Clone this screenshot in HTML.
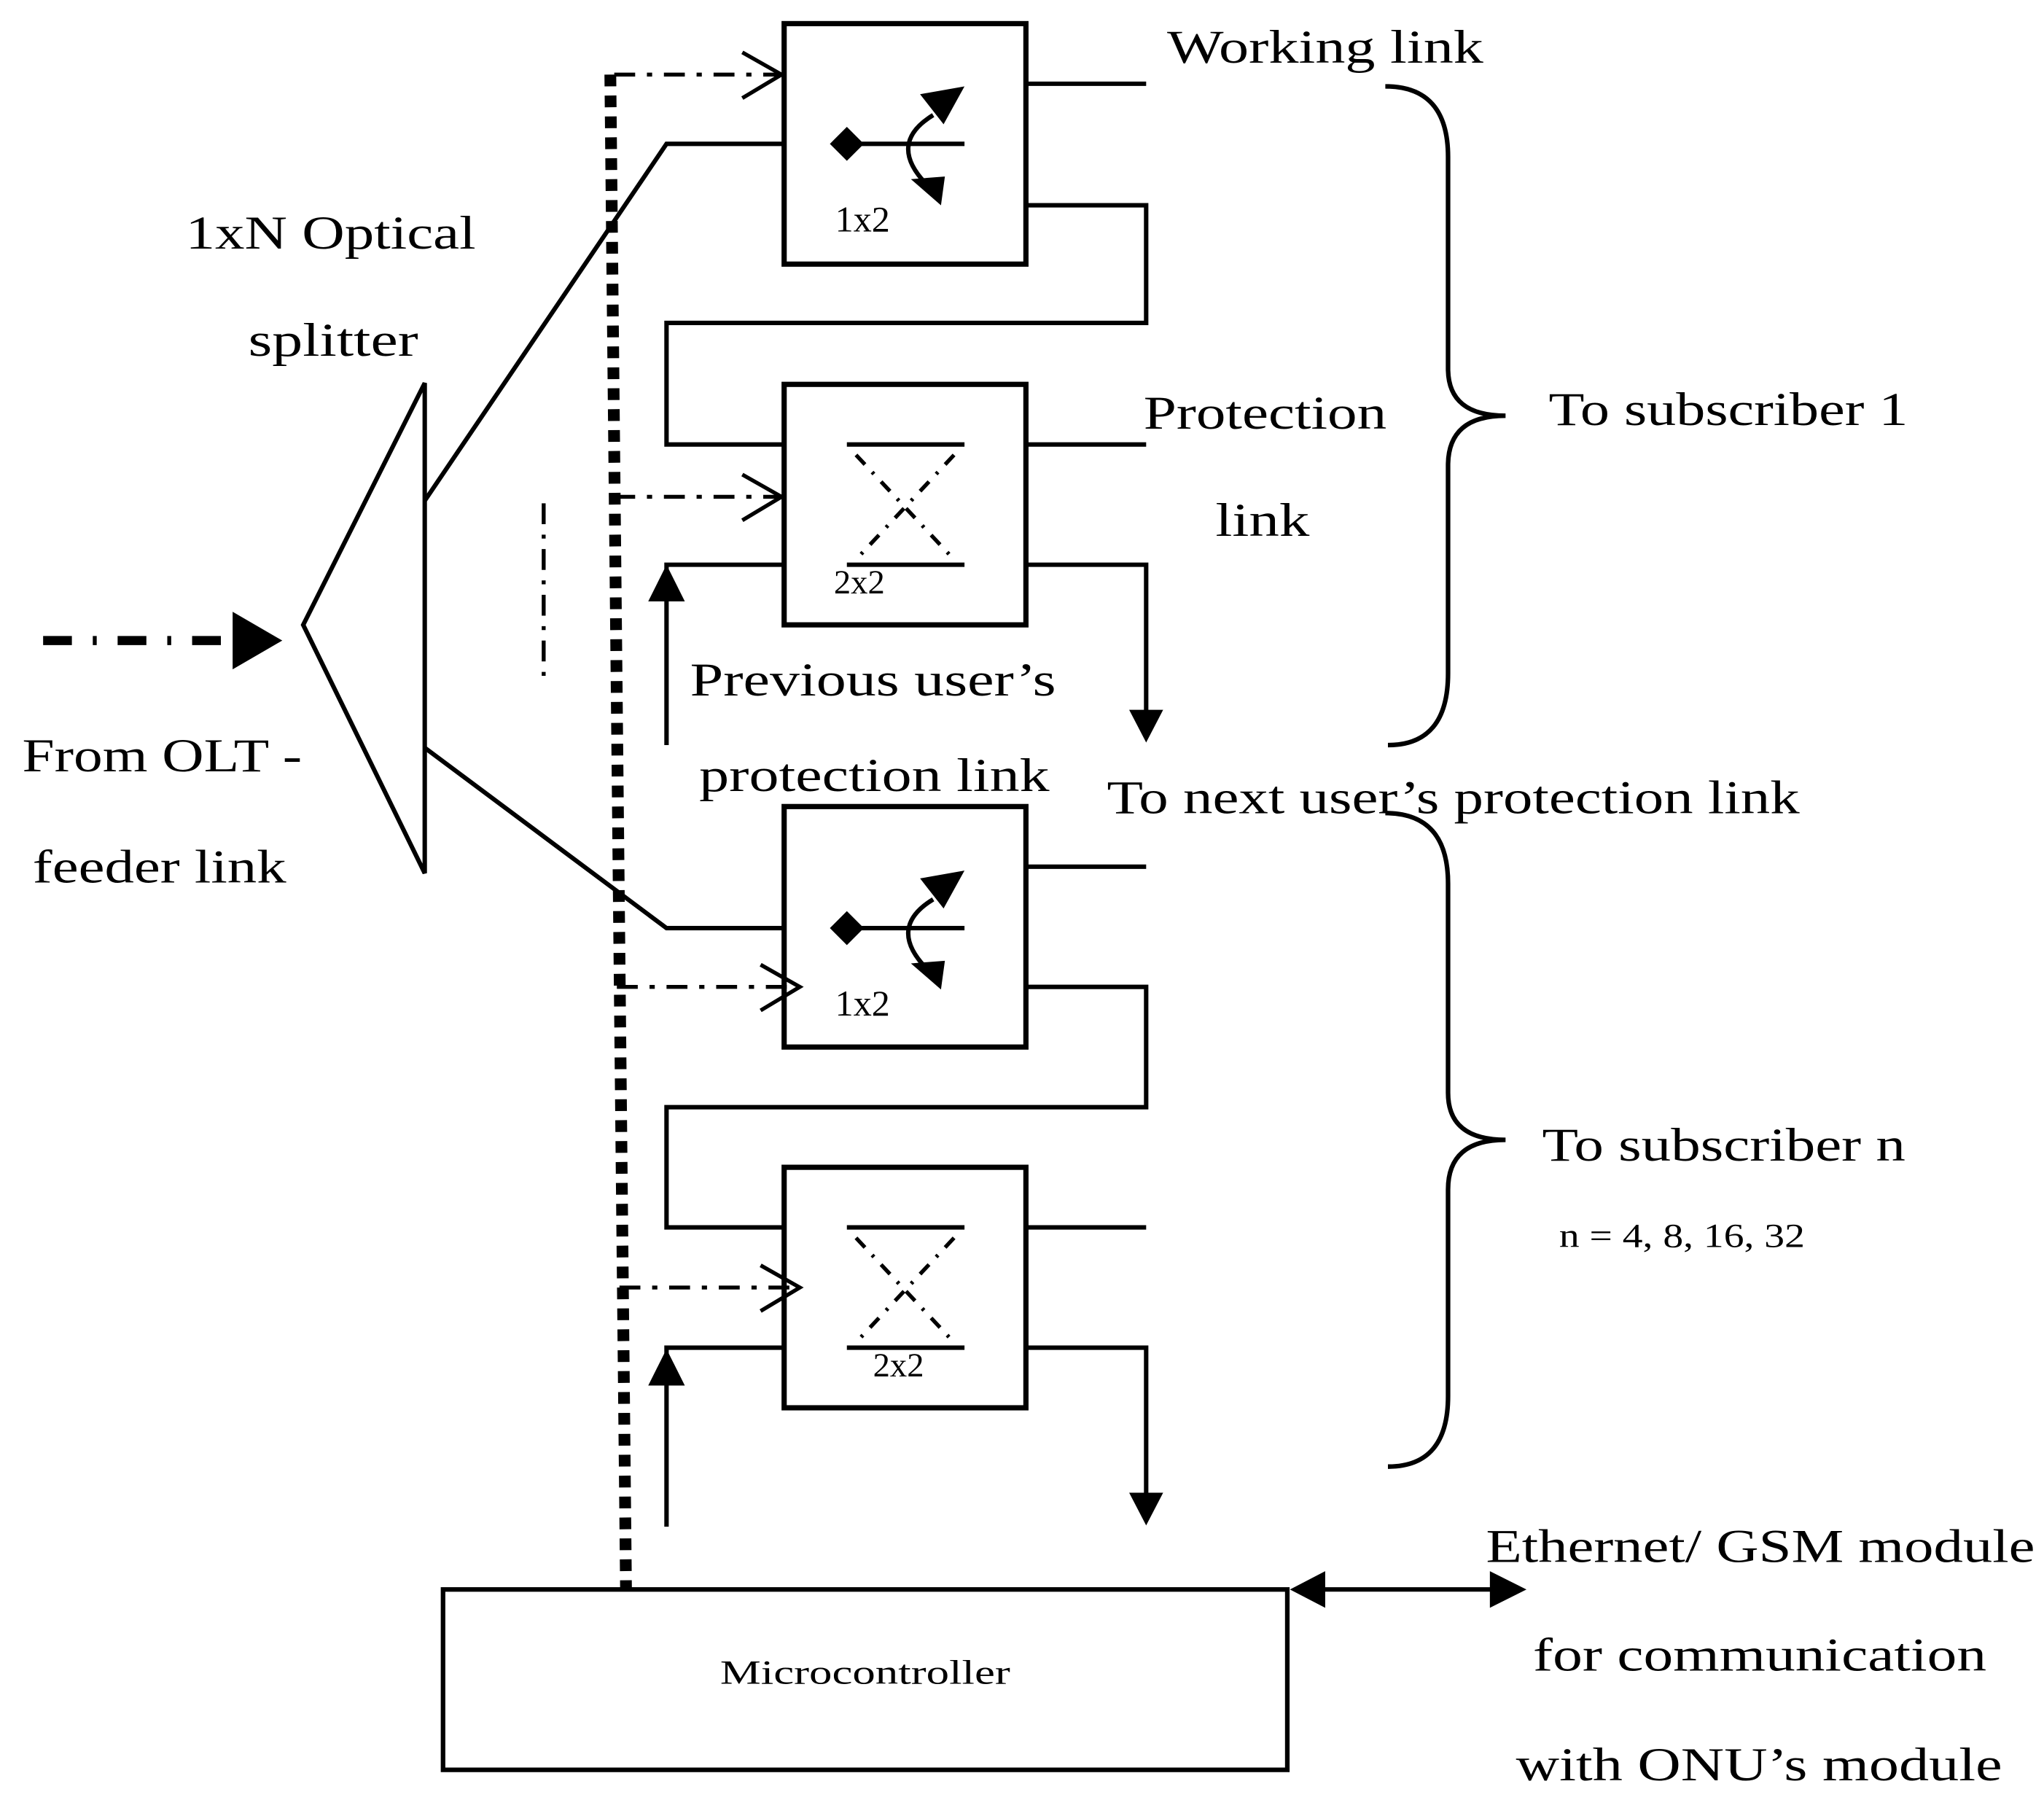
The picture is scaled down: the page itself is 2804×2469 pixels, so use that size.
<!DOCTYPE html>
<html><head><meta charset="utf-8"><style>html,body{margin:0;padding:0;background:#fff}svg{display:block}</style></head>
<body>
<svg width="2804" height="2469" viewBox="0 0 1564 1377" xmlns="http://www.w3.org/2000/svg" font-family="'Liberation Serif', serif" fill="none" stroke="#000">
<rect x="0" y="0" width="1564" height="1377" fill="#fff" stroke="none"/>
<g stroke-width="4">
<rect x="600" y="18" width="185" height="184"/>
<rect x="600" y="294" width="185" height="184"/>
<rect x="600" y="617" width="185" height="184"/>
<rect x="600" y="893" width="185" height="184"/>
<rect x="339" y="1216" width="646" height="138" stroke-width="3.5"/>
</g>
<g stroke-width="3.4">
<polygon points="325,293 232,478 325,668"/>
<polyline points="325,383 510,110 600,110"/>
<polyline points="325,572 510,710 600,710"/>
<line x1="785" y1="64" x2="877" y2="64"/>
<polyline points="785,157 877,157 877,247 510,247 510,340 600,340"/>
<line x1="785" y1="340" x2="877" y2="340"/>
<polyline points="785,432 877,432 877,545"/>
<polyline points="600,432 510,432 510,570"/>
<line x1="785" y1="663" x2="877" y2="663"/>
<polyline points="785,755 877,755 877,847 510,847 510,939 600,939"/>
<line x1="785" y1="939" x2="877" y2="939"/>
<polyline points="785,1031 877,1031 877,1145"/>
<polyline points="600,1031 510,1031 510,1168"/>
<line x1="1005" y1="1216" x2="1150" y2="1216"/>
</g>
<g fill="#000" stroke="none">
<polygon points="864,543 890,543 877,568"/>
<polygon points="864,1142 890,1142 877,1167"/>
<polygon points="496,460 524,460 510,432"/>
<polygon points="496,1060 524,1060 510,1032"/>
<polygon points="987,1216 1014,1202 1014,1230"/>
<polygon points="1168,1216 1140,1202 1140,1230"/>
<polygon points="178,468 216,490 178,512"/>
</g>
<line x1="33" y1="490" x2="175" y2="490" stroke-width="7" stroke-dasharray="22 16 3 16"/>
<line x1="416" y1="385" x2="416" y2="524" stroke-width="3" stroke-dasharray="16 8 3 8"/>
<line x1="467" y1="57" x2="479" y2="1216" stroke-width="9" stroke-dasharray="9 7"/>
<g stroke-width="3">
<line x1="470" y1="57" x2="596" y2="57" stroke-dasharray="16 9 4 9"/>
<polyline points="568,40 598,57 568,75"/>
<line x1="470" y1="380" x2="596" y2="380" stroke-dasharray="16 9 4 9"/>
<polyline points="568,363 598,380 568,398"/>
<line x1="472" y1="755" x2="610" y2="755" stroke-dasharray="16 9 4 9"/>
<polyline points="582,738 612,755 582,773"/>
<line x1="474" y1="985" x2="610" y2="985" stroke-dasharray="16 9 4 9"/>
<polyline points="582,968 612,985 582,1003"/>
</g>
<g id="s1">
<line x1="648" y1="110" x2="738" y2="110" stroke-width="3.4"/>
<polygon points="648,97 661,110 648,123 635,110" fill="#000" stroke="none"/>
<path d="M714,88 Q678,110 710,142" stroke-width="3.4"/>
<polygon points="704,72 738,66 722,95" fill="#000" stroke="none"/>
<polygon points="697,137 723,135 720,157" fill="#000" stroke="none"/>
<text x="639" y="177" font-size="28" fill="#000" stroke="none">1x2</text>
</g>
<use href="#s1" transform="translate(0,600)"/>
<g id="s2">
<line x1="648" y1="340" x2="738" y2="340" stroke-width="3.4"/>
<line x1="648" y1="432" x2="738" y2="432" stroke-width="3.4"/>
<line x1="655" y1="348" x2="730" y2="428" stroke-width="3" stroke-dasharray="10 8 2 8"/>
<line x1="730" y1="348" x2="655" y2="428" stroke-width="3" stroke-dasharray="10 8 2 8"/>
</g>
<text x="638" y="454" font-size="26" fill="#000" stroke="none">2x2</text>
<use href="#s2" transform="translate(0,599)"/>
<text x="668" y="1053" font-size="26" fill="#000" stroke="none">2x2</text>
<path d="M1060,66 Q1108,66 1108,120 L1108,282 Q1108,318 1152,318 Q1108,318 1108,356 L1108,515 Q1108,570 1062,570" stroke-width="3.5"/>
<path d="M1060,622 Q1108,622 1108,676 L1108,836 Q1108,872 1152,872 Q1108,872 1108,910 L1108,1068 Q1108,1122 1062,1122" stroke-width="3.5"/>
<g fill="#000" stroke="none" font-size="36">
<text x="893" y="48" textLength="242" lengthAdjust="spacingAndGlyphs">Working link</text>
<text x="142" y="190" textLength="222" lengthAdjust="spacingAndGlyphs">1xN Optical</text>
<text x="190" y="272" textLength="130" lengthAdjust="spacingAndGlyphs">splitter</text>
<text x="875" y="328" textLength="186" lengthAdjust="spacingAndGlyphs">Protection</text>
<text x="930" y="410" textLength="72" lengthAdjust="spacingAndGlyphs">link</text>
<text x="1185" y="325" textLength="275" lengthAdjust="spacingAndGlyphs">To subscriber 1</text>
<text x="528" y="532" textLength="280" lengthAdjust="spacingAndGlyphs">Previous user’s</text>
<text x="535" y="605" textLength="268" lengthAdjust="spacingAndGlyphs">protection link</text>
<text x="17" y="590" textLength="214" lengthAdjust="spacingAndGlyphs">From OLT -</text>
<text x="25" y="675" textLength="194" lengthAdjust="spacingAndGlyphs">feeder link</text>
<text x="847" y="622" textLength="530" lengthAdjust="spacingAndGlyphs">To next user’s protection link</text>
<text x="1180" y="888" textLength="278" lengthAdjust="spacingAndGlyphs">To subscriber n</text>
<text x="1193" y="954" font-size="26" textLength="188" lengthAdjust="spacingAndGlyphs">n = 4, 8, 16, 32</text>
<text x="1137" y="1195" textLength="420" lengthAdjust="spacingAndGlyphs">Ethernet/ GSM module</text>
<text x="1173" y="1278" textLength="347" lengthAdjust="spacingAndGlyphs">for communication</text>
<text x="1160" y="1362" textLength="372" lengthAdjust="spacingAndGlyphs">with ONU’s module</text>
<text x="551" y="1288" font-size="26" textLength="222" lengthAdjust="spacingAndGlyphs">Microcontroller</text>
</g>
</svg>
</body></html>
